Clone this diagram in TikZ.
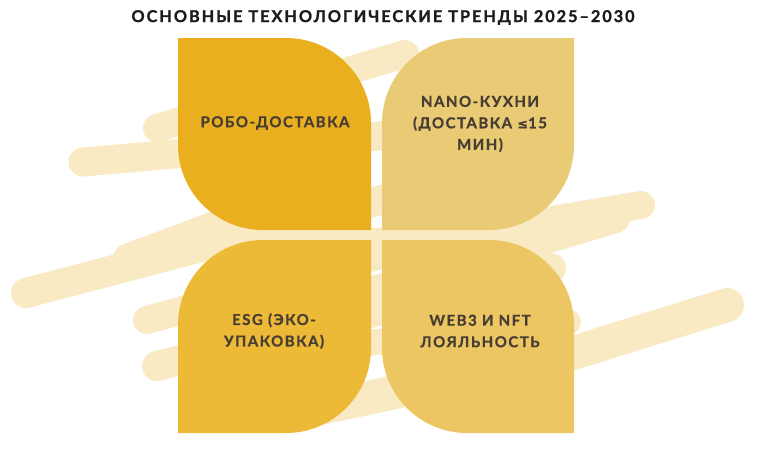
\documentclass[tikz,border=0pt]{standalone}
\usepackage{fontspec}
\setmainfont{Lato}
\newfontfamily\lblfont[LetterSpace=10,FakeBold=0.8]{Lato}
\newfontfamily\ttlfont[LetterSpace=12,FakeBold=1.3]{Lato}
\newfontfamily\symfont[FakeBold=0.6]{DejaVu Sans}
\definecolor{cream}{HTML}{F9EAC3}
\definecolor{cTL}{HTML}{E9AF1F}
\definecolor{cTR}{HTML}{E8CB74}
\definecolor{cBL}{HTML}{ECBA36}
\definecolor{cBR}{HTML}{ECC662}
\definecolor{txt}{HTML}{483D33}
\definecolor{ttl}{HTML}{1C1C1C}
\begin{document}
\begin{tikzpicture}[x=1pt,y=-1pt,
  brush/.style={draw=cream, line width=#1, line cap=round, line join=round},
  brush/.default=28,
  lbl/.style={text=txt, font=\lblfont\bfseries\fontsize{15}{21.5}\selectfont, align=center, inner sep=0pt},
  ttlstyle/.style={text=ttl, font=\ttlfont\bfseries\fontsize{16.3}{18}\selectfont, inner sep=0pt}]
\useasboundingbox[fill=white] (0,0) rectangle (763,450);
% background brush strokes
\draw[brush] (157,128) -- (405,54);
\draw[brush=29] (83,162) -- (470,128);
\draw[brush=30] (26,293) -- (400,195);
\draw[brush] (127,258) -- (330,182);
\draw[brush] (641,205) -- (540,222) -- (377,242) -- (255,245);
\draw[brush=30] (615,218) -- (377,290) -- (330,305);
\draw[brush] (147,320) -- (377,256) -- (450,236);
\draw[brush=30] (157,366) -- (551,268);
\draw[brush=26] (568,322) -- (377,342) -- (250,355);
\draw[brush=34] (727,305) -- (573,353) -- (377,396) -- (300,412);
% shapes
\fill[cTL] (178,38) -- (286,38) .. controls (332.95,38) and (371,76.05) .. (371,123) -- (371,230) -- (263,230) .. controls (216.05,230) and (178,191.95) .. (178,145) -- cycle;
\fill[cTR] (382,123) .. controls (382,76.05) and (420.05,38) .. (467,38) -- (574,38) -- (574,145) .. controls (574,191.95) and (535.95,230) .. (489,230) -- (382,230) -- cycle;
\fill[cBL] (178,325) .. controls (178,278.05) and (216.05,240) .. (263,240) -- (371,240) -- (371,348) .. controls (371,394.95) and (332.95,433) .. (286,433) -- (178,433) -- cycle;
\fill[cBR] (382,240) -- (489,240) .. controls (535.95,240) and (574,278.05) .. (574,325) -- (574,433) -- (467,433) .. controls (420.05,433) and (382,394.95) .. (382,348) -- cycle;
% texts
\node[ttlstyle] (title) at (383,17.5) {ОСНОВНЫЕ ТЕХНОЛОГИЧЕСКИЕ ТРЕНДЫ 2025–2030};
\node[lbl] (t1) at (275,123) {РОБО-ДОСТАВКА};
\node[lbl] (t2) at (480,124) {NANO-КУХНИ\\(ДОСТАВКА {\symfont\fontsize{13}{15}\selectfont ≤}15\\МИН)};
\node[lbl] (t3) at (274,331) {ESG (ЭКО-\\УПАКОВКА)};
\node[lbl] (t4) at (480,331) {WEB3 И NFT\\ЛОЯЛЬНОСТЬ};
\end{tikzpicture}
\end{document}
